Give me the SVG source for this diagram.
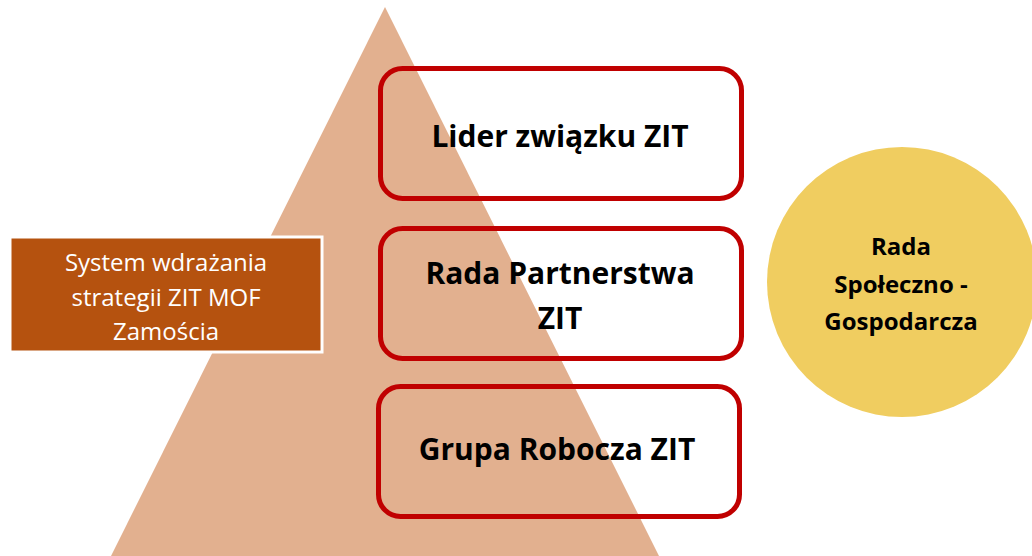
<svg xmlns="http://www.w3.org/2000/svg" width="1032" height="556" viewBox="0 0 1032 556">
<style>
.box{fill:#FFFFFF;fill-opacity:0;stroke:#C00000;stroke-width:5}
.bt{font-family:"Open Sans","Liberation Sans",sans-serif;font-weight:bold;font-size:30px;fill:#000;text-anchor:middle}
.ct{font-family:"Open Sans","Liberation Sans",sans-serif;font-weight:bold;font-size:24px;fill:#000;text-anchor:middle}
.lt{font-family:"Open Sans","Liberation Sans",sans-serif;font-size:24px;fill:#FFFFFF;text-anchor:middle}
</style>
<rect width="1032" height="556" fill="#FFFFFF"/>
<g id="pyramid"><polygon points="385,7 659,556 111,556" fill="#E2B08F"/></g>
<g id="system">
<rect x="10" y="237" width="312" height="115" fill="#B5520F" stroke="#FFFFFF" stroke-width="3"/>
<text class="lt" x="166" y="271">System wdrażania</text>
<text class="lt" x="166" y="306">strategii ZIT MOF</text>
<text class="lt" x="166" y="340">Zamościa</text>
</g>
<g id="lider">
<rect class="box" x="380.5" y="68.5" width="361" height="130" rx="22"/>
<text class="bt" x="560" y="147">Lider związku ZIT</text>
</g>
<g id="rada-partnerstwa">
<rect class="box" x="380.5" y="228.5" width="361" height="130" rx="22"/>
<text class="bt" x="560" y="284">Rada Partnerstwa</text>
<text class="bt" x="560" y="329">ZIT</text>
</g>
<g id="grupa">
<rect class="box" x="378.5" y="386.5" width="361" height="130" rx="22"/>
<text class="bt" x="557" y="460">Grupa Robocza ZIT</text>
</g>
<g id="rada-spoleczno">
<circle cx="902" cy="282" r="135" fill="#F0CD60"/>
<text class="ct" x="901" y="255">Rada</text>
<text class="ct" x="901" y="293">Społeczno -</text>
<text class="ct" x="901" y="330">Gospodarcza</text>
</g>
<g id="connectors"></g>
</svg>
